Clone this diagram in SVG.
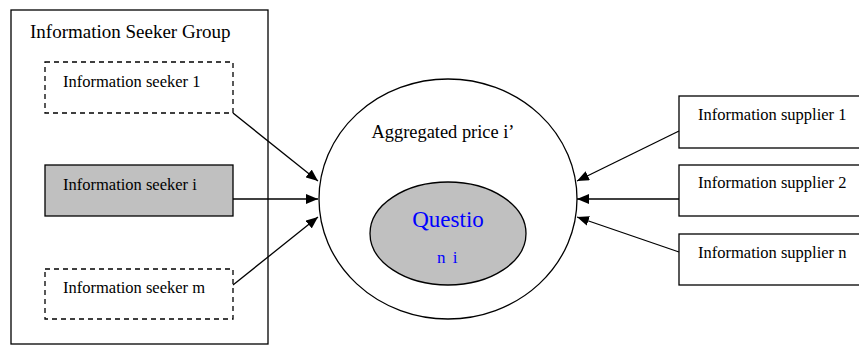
<svg xmlns="http://www.w3.org/2000/svg" width="859" height="354" viewBox="0 0 859 354">
<style>
text{font-family:"Liberation Serif","Times New Roman",serif;fill:#000}
.box{fill:#fff;stroke:#000;stroke-width:1.3}
.dash{fill:#fff;stroke:#000;stroke-width:1.3;stroke-dasharray:5,4}
.lbl{font-size:16.5px}
.conn line{stroke:#000;stroke-width:1.3}
</style>
<defs>
<marker id="ah" viewBox="0 0 12 10" refX="12" refY="5" markerWidth="12" markerHeight="10" markerUnits="userSpaceOnUse" orient="auto">
<path d="M0,0 L12,5 L0,10 z" fill="#000"/>
</marker>
</defs>
<rect width="859" height="354" fill="#fff"/>
<g id="group">
<rect class="box" x="11" y="10" width="257" height="334"/>
<text x="30" y="38" font-size="19">Information Seeker Group</text>
</g>
<g id="seeker1">
<rect class="dash" x="45" y="62" width="188" height="51"/>
<text class="lbl" x="63" y="87">Information seeker 1</text>
</g>
<g id="seekeri">
<rect class="box" x="45" y="165" width="188" height="51" fill="#c0c0c0" style="fill:#c0c0c0"/>
<text class="lbl" x="63" y="190">Information seeker i</text>
</g>
<g id="seekerm">
<rect class="dash" x="45" y="269" width="188" height="50"/>
<text class="lbl" x="63" y="293">Information seeker m</text>
</g>
<g id="aggregated">
<ellipse cx="448" cy="199" rx="129" ry="120" fill="#fff" stroke="#000" stroke-width="1.3"/>
<text x="443" y="138" font-size="18.4" text-anchor="middle">Aggregated price i’</text>
</g>
<g id="question">
<ellipse cx="448" cy="233.5" rx="78" ry="51.5" fill="#c0c0c0" stroke="#000" stroke-width="1.3"/>
<text x="448" y="227" font-size="23" text-anchor="middle" style="fill:#0000ff">Questio</text>
<text x="448" y="263" font-size="17" text-anchor="middle" letter-spacing="1.5" style="fill:#0000ff">n i</text>
</g>
<g id="supplier1">
<rect class="box" x="679" y="96" width="190" height="52"/>
<text class="lbl" x="698" y="120">Information supplier 1</text>
</g>
<g id="supplier2">
<rect class="box" x="679" y="165" width="190" height="51"/>
<text class="lbl" x="698" y="188">Information supplier 2</text>
</g>
<g id="suppliern">
<rect class="box" x="679" y="234" width="190" height="51"/>
<text class="lbl" x="698" y="258">Information supplier n</text>
</g>
<g id="connectors" class="conn">
<line x1="233" y1="113" x2="318" y2="181" marker-end="url(#ah)"/>
<line x1="233" y1="199" x2="318" y2="199" marker-end="url(#ah)"/>
<line x1="233" y1="285" x2="318" y2="217" marker-end="url(#ah)"/>
<line x1="679" y1="131" x2="577" y2="181" marker-end="url(#ah)"/>
<line x1="679" y1="199" x2="577" y2="199" marker-end="url(#ah)"/>
<line x1="679" y1="252" x2="577" y2="217" marker-end="url(#ah)"/>
</g>
</svg>
